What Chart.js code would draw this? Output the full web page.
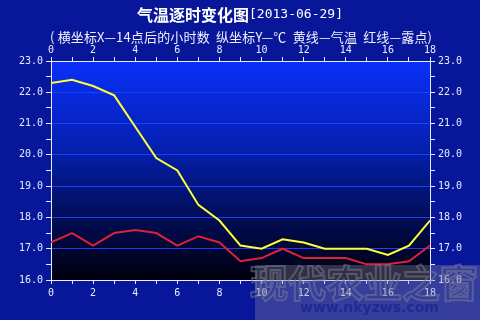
<!DOCTYPE html>
<html>
<head>
<meta charset="utf-8">
<script src="https://cdn.jsdelivr.net/npm/chart.js@4"></script>
<style>
html,body{margin:0;padding:0;background:#08169a;}
#wrap{width:480px;height:320px;position:relative;}
</style>
</head>
<body>
<div id="wrap"><canvas id="c" width="480" height="320"></canvas></div>
<script>
// ---- data ----
const hours = [0,1,2,3,4,5,6,7,8,9,10,11,12,13,14,15,16,17,18];
const temperature = [22.3,22.4,22.2,21.9,20.9,19.9,19.5,18.4,17.9,17.1,17.0,17.3,17.2,17.0,17.0,17.0,16.8,17.1,17.9];
const dewPoint = [17.2,17.5,17.1,17.5,17.6,17.5,17.1,17.4,17.2,16.6,16.7,17.0,16.7,16.7,16.7,16.5,16.5,16.6,17.1];
const xTickLabels = ['0','2','4','6','8','10','12','14','16','18'];
const yTickLabels = ['16.0','17.0','18.0','19.0','20.0','21.0','22.0','23.0'];
const titleMain = '气温逐时变化图';
const titleDate = '[2013-06-29]';
const subtitle = '( 横坐标X—14点后的小时数  纵坐标Y—℃  黄线—气温  红线—露点)';
const watermarkBig = '现代农业之窗';
const watermarkUrl = 'www.nkyzws.com';

const tickColor = '#e8ecff';
const monoFont = {family:'"DejaVu Sans Mono", monospace', size:10};

function xLabel(v){ return xTickLabels.includes(String(v)) ? String(v) : ''; }
function yLabel(v){ const s = Number(v).toFixed(1); return (Number.isInteger(v) && yTickLabels.includes(s)) ? s : ''; }

const bgPlugin = {
  id:'bg',
  beforeDraw(chart){
    const {ctx, chartArea:a} = chart;
    ctx.save();
    ctx.fillStyle = '#08169a';
    ctx.fillRect(0,0,chart.width,chart.height);
    const g = ctx.createLinearGradient(0,a.top,0,a.bottom);
    g.addColorStop(0,'#0a30f8');
    g.addColorStop(0.4,'#0420b0');
    g.addColorStop(0.7,'#020e5a');
    g.addColorStop(1,'#00000e');
    ctx.fillStyle = g;
    ctx.fillRect(a.left,a.top,a.right-a.left,a.bottom-a.top);
    ctx.restore();
  },
  afterDraw(chart){
    const ctx = chart.ctx;
    ctx.save();
    // title
    const f1 = 'bold 16px "Noto Sans CJK SC", sans-serif';
    const f2 = '13px "DejaVu Sans Mono", monospace';
    ctx.font = f1; const w1 = ctx.measureText(titleMain).width;
    ctx.font = f2; const w2 = ctx.measureText(titleDate).width;
    const x0 = 240 - (w1+w2)/2;
    ctx.fillStyle = '#ffffff';
    ctx.textBaseline = 'middle';
    ctx.textAlign = 'left';
    ctx.font = f1; ctx.fillText(titleMain, x0, 15);
    ctx.font = f2; ctx.fillText(titleDate, x0+w1, 15);
    // subtitle, stretched to the reference width
    ctx.font = '13px "Noto Sans CJK SC", sans-serif';
    const ws = ctx.measureText(subtitle).width;
    const n = [...subtitle].length;
    const target = 382;
    const ls = Math.max(0, (target - ws) / (n - 1));
    ctx.letterSpacing = ls.toFixed(2) + 'px';
    ctx.fillStyle = '#f0f0ff';
    ctx.fillText(subtitle, 50, 37);
    ctx.letterSpacing = '0px';
    // watermark
    ctx.fillStyle = 'rgba(150,150,165,0.32)';
    ctx.fillRect(255,265,225,55);
    ctx.font = 'bold 38px "Noto Sans CJK SC", sans-serif';
    ctx.lineWidth = 2;
    ctx.strokeStyle = 'rgba(120,120,150,0.55)';
    ctx.strokeText(watermarkBig, 250, 283);
    ctx.fillStyle = 'rgba(20,30,140,0.65)';
    ctx.font = 'bold 14px "DejaVu Sans", sans-serif';
    ctx.fillText(watermarkUrl, 300, 308);
    ctx.restore();
  }
};

new Chart(document.getElementById('c'), {
  type:'line',
  data:{
    datasets:[
      {label:'气温', data:hours.map((h,i)=>({x:h,y:temperature[i]})), borderColor:'#ffff3c', borderWidth:2, pointRadius:0, tension:0, xAxisID:'x', yAxisID:'y'},
      {label:'露点', data:hours.map((h,i)=>({x:h,y:dewPoint[i]})), borderColor:'#e0203a', borderWidth:2, pointRadius:0, tension:0, xAxisID:'x', yAxisID:'y'}
    ]
  },
  options:{
    responsive:false, animation:false, devicePixelRatio:1,
    layout:{padding:{top:45,bottom:20,left:0,right:0}},
    plugins:{legend:{display:false}, title:{display:false}, tooltip:{enabled:false}},
    scales:{
      x:{type:'linear', position:'bottom', min:0, max:18,
         ticks:{stepSize:1, autoSkip:false, maxRotation:0, color:tickColor, font:monoFont, padding:3, callback:xLabel},
         grid:{drawOnChartArea:false, drawTicks:true, tickLength:4, tickColor:tickColor},
         border:{color:tickColor, width:1},
         afterFit(s){ s.height = 20; }},
      x2:{type:'linear', position:'top', min:0, max:18,
         ticks:{stepSize:1, autoSkip:false, maxRotation:0, color:tickColor, font:monoFont, padding:1, callback:xLabel},
         grid:{drawOnChartArea:false, drawTicks:true, tickLength:4, tickColor:tickColor},
         border:{color:tickColor, width:1},
         afterFit(s){ s.height = 16; }},
      y:{type:'linear', position:'left', min:16, max:23,
         ticks:{stepSize:0.5, autoSkip:false, color:tickColor, font:monoFont, padding:3, callback:yLabel},
         grid:{drawOnChartArea:true, drawTicks:true, tickLength:5, tickColor:tickColor,
               color:(c)=> (c.tick && Number.isInteger(c.tick.value) && c.tick.value>16 && c.tick.value<23) ? '#1f3cff' : 'rgba(0,0,0,0)'},
         border:{color:tickColor, width:1},
         afterFit(s){ s.width = 51; }},
      y2:{type:'linear', position:'right', min:16, max:23,
         ticks:{stepSize:0.5, autoSkip:false, color:tickColor, font:monoFont, padding:3, callback:yLabel},
         grid:{drawOnChartArea:false, drawTicks:true, tickLength:5, tickColor:tickColor},
         border:{color:tickColor, width:1},
         afterFit(s){ s.width = 50; }}
    }
  },
  plugins:[bgPlugin]
});
</script>
</body>
</html>
